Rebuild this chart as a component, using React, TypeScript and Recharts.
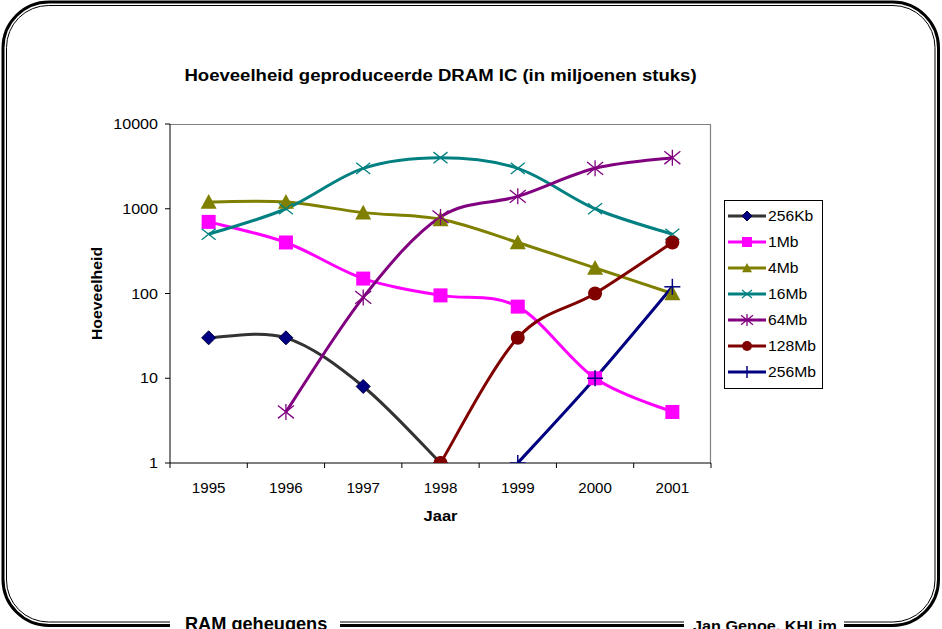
import React from "react";
import { ComposedChart, Line, XAxis, YAxis, ReferenceArea } from "recharts";

const years = ["1995", "1996", "1997", "1998", "1999", "2000", "2001"];
const kb256 = [30, 30, 8, 1, null, null, null];
const mb1 = [700, 400, 150, 95, 70, 10, 4];
const mb4 = [1200, 1200, 900, 750, 400, 200, 100];
const mb16 = [500, 1000, 3000, 4000, 3000, 1000, 500];
const mb64 = [null, 4, 90, 800, 1400, 3000, 4000];
const mb128 = [null, null, null, 1, 30, 100, 400];
const mb256 = [null, null, null, null, 1, 10, 120];
const yTicks = [1, 10, 100, 1000, 10000];

const FONT = "Arial, 'Liberation Sans', sans-serif";
const SX = 1.15; // the slide text is stretched a bit horizontally
const W = 942;
const H = 629;
const M = { top: 124, right: 231, bottom: 126, left: 110 };
const Y_AXIS_W = 60;
const X_AXIS_H = 40;
const PLOT_L = M.left + Y_AXIS_W;
const PLOT_R = W - M.right;
const AXIS_Y = H - M.bottom - X_AXIS_H;
const BAND = (PLOT_R - PLOT_L) / years.length;

const data = years.map((year, i) => ({
  year,
  kb256: kb256[i],
  mb1: mb1[i],
  mb4: mb4[i],
  mb16: mb16[i],
  mb64: mb64[i],
  mb128: mb128[i],
  mb256: mb256[i],
}));

// Excel-like smoothing (catmull-rom through the points)
const excelCurve = (context: any) => {
  let pts: number[][] = [];
  return {
    areaStart() {},
    areaEnd() {},
    lineStart() {
      pts = [];
    },
    point(x: number, y: number) {
      pts.push([+x, +y]);
    },
    lineEnd() {
      if (!pts.length) return;
      context.moveTo(pts[0][0], pts[0][1]);
      for (let i = 0; i < pts.length - 1; i++) {
        const p0 = pts[i - 1] || pts[i];
        const p1 = pts[i];
        const p2 = pts[i + 1];
        const p3 = pts[i + 2] || pts[i + 1];
        context.bezierCurveTo(
          p1[0] + (p2[0] - p0[0]) / 6,
          p1[1] + (p2[1] - p0[1]) / 6,
          p2[0] - (p3[0] - p1[0]) / 6,
          p2[1] - (p3[1] - p1[1]) / 6,
          p2[0],
          p2[1]
        );
      }
    },
  };
};

// stretched text helper
const SText = ({ x, y, size, bold, anchor = "start", sx = SX, rotate = 0, children }: any) => (
  <g transform={`translate(${x},${y}) rotate(${rotate}) scale(${sx},1)`}>
    <text x={0} y={0} textAnchor={anchor} fontSize={size} fontWeight={bold ? "bold" : "normal"} fontFamily={FONT} fill="#000">
      {children}
    </text>
  </g>
);

type Shape = "diamond" | "square" | "triangle" | "x" | "star" | "circle" | "plus";

const marker = (shape: Shape, color: string, cx: number, cy: number, s: number, key?: any) => {
  switch (shape) {
    case "diamond":
      return (
        <polygon key={key} points={`${cx},${cy - s} ${cx + s},${cy} ${cx},${cy + s} ${cx - s},${cy}`} fill={color} stroke="#000040" strokeWidth={1} />
      );
    case "square":
      return <rect key={key} x={cx - s} y={cy - s} width={s * 2} height={s * 2} fill={color} />;
    case "triangle":
      return <polygon key={key} points={`${cx},${cy - s} ${cx + s},${cy + s * 0.85} ${cx - s},${cy + s * 0.85}`} fill={color} />;
    case "x":
      return (
        <g key={key} stroke={color} strokeWidth={1.3}>
          <line x1={cx - s} y1={cy - s * 0.8} x2={cx + s} y2={cy + s * 0.8} />
          <line x1={cx - s} y1={cy + s * 0.8} x2={cx + s} y2={cy - s * 0.8} />
        </g>
      );
    case "star":
      return (
        <g key={key} stroke={color} strokeWidth={1.3}>
          <line x1={cx - s} y1={cy - s * 0.8} x2={cx + s} y2={cy + s * 0.8} />
          <line x1={cx - s} y1={cy + s * 0.8} x2={cx + s} y2={cy - s * 0.8} />
          <line x1={cx} y1={cy - s} x2={cx} y2={cy + s} />
        </g>
      );
    case "circle":
      return <circle key={key} cx={cx} cy={cy} r={s} fill={color} />;
    case "plus":
      return (
        <g key={key} stroke={color} strokeWidth={1.5}>
          <line x1={cx - s} y1={cy} x2={cx + s} y2={cy} />
          <line x1={cx} y1={cy - s} x2={cx} y2={cy + s} />
        </g>
      );
  }
};

const seriesList: { key: string; name: string; line: string; dot: string; shape: Shape; size: number }[] = [
  { key: "kb256", name: "256Kb", line: "#333333", dot: "#000080", shape: "diamond", size: 7 },
  { key: "mb1", name: "1Mb", line: "#FF00FF", dot: "#FF00FF", shape: "square", size: 7 },
  { key: "mb4", name: "4Mb", line: "#808000", dot: "#808000", shape: "triangle", size: 8 },
  { key: "mb16", name: "16Mb", line: "#008080", dot: "#008080", shape: "x", size: 7 },
  { key: "mb64", name: "64Mb", line: "#800080", dot: "#800080", shape: "star", size: 8 },
  { key: "mb128", name: "128Mb", line: "#800000", dot: "#800000", shape: "circle", size: 7 },
  { key: "mb256", name: "256Mb", line: "#000080", dot: "#000080", shape: "plus", size: 8 },
];

const makeDot = (shape: Shape, color: string, size: number) => (props: any) => {
  const { cx, cy, index, value } = props;
  if (value == null || cy == null || isNaN(cy)) return <g key={`d${index}`} />;
  return marker(shape, color, cx, cy, size, `d${index}`);
};

const XTick = (props: any) => {
  const { x, payload, index } = props;
  return (
    <g>
      <line x1={x - BAND / 2} y1={AXIS_Y} x2={x - BAND / 2} y2={AXIS_Y + 5} stroke="#000" />
      {index === years.length - 1 && (
        <line x1={x + BAND / 2} y1={AXIS_Y} x2={x + BAND / 2} y2={AXIS_Y + 5} stroke="#000" />
      )}
      <SText x={x} y={AXIS_Y + 30} size={14} anchor="middle" sx={1.08}>
        {payload.value}
      </SText>
    </g>
  );
};

const YTick = (props: any) => {
  const { x, y, payload } = props;
  return (
    <SText x={x} y={y + 5} size={14} anchor="end">
      {payload.value}
    </SText>
  );
};

// gray top/right edge of the plot area
const PlotEdge = (props: any) => {
  const { x, y, width, height } = props;
  return <path d={`M${x},${y + 0.5} H${x + width - 0.5} V${y + height}`} fill="none" stroke="#808080" strokeWidth={1.2} />;
};

const LegendBox = () => (
  <svg width={99} height={189} style={{ position: "absolute", left: 724, top: 200 }}>
    <rect x={0.5} y={0.5} width={98} height={188} fill="#fff" stroke="#000" />
    {seriesList.map((s, i) => {
      const y = 16 + i * 26;
      return (
        <g key={s.key}>
          <line x1={4} y1={y} x2={42} y2={y} stroke={s.line} strokeWidth={3} />
          {marker(s.shape, s.dot, 23, y, s.shape === "plus" || s.shape === "star" ? 6 : 5)}
          <SText x={44} y={y + 5} size={14} sx={1.12}>
            {s.name}
          </SText>
        </g>
      );
    })}
  </svg>
);

const Frame = () => (
  <svg width={W} height={H} style={{ position: "absolute", left: 0, top: 0 }}>
    <rect x={3} y={2} width={935.5} height={623.5} rx={46} ry={46} fill="none" stroke="#000" strokeWidth={3} />
    <rect x={6.5} y={5.5} width={928.5} height={616.5} rx={42} ry={42} fill="none" stroke="#000" strokeWidth={1} />
    <rect x={170} y={612} width={170} height={17} fill="#fff" />
    <rect x={684} y={612} width={160} height={17} fill="#fff" />
    <SText x={185} y={630} size={18} bold sx={1.01}>
      RAM geheugens
    </SText>
    <SText x={693} y={631} size={15} bold sx={1.08}>
      Jan Genoe, KHLim
    </SText>
  </svg>
);

export default function App() {
  const midY = (M.top + AXIS_Y) / 2;
  const midX = (PLOT_L + PLOT_R) / 2;
  return (
    <div style={{ position: "absolute", left: 0, top: 0, width: W, height: H, background: "#fff", fontFamily: FONT }}>
      <Frame />
      <div style={{ position: "absolute", left: 0, top: 0 }}>
        <ComposedChart width={W} height={H} data={data} margin={M}>
          <SText x={midX} y={81} size={16} bold anchor="middle" sx={1.16}>
            Hoeveelheid geproduceerde DRAM IC (in miljoenen stuks)
          </SText>
          <SText x={102} y={midY} size={14} bold anchor="middle" rotate={-90} sx={1.13}>
            Hoeveelheid
          </SText>
          <SText x={midX} y={521} size={14} bold anchor="middle" sx={1.18}>
            Jaar
          </SText>
          <ReferenceArea y1={1} y2={10000} fill="none" shape={<PlotEdge />} ifOverflow="visible" />
          <XAxis
            dataKey="year"
            scale="band"
            height={X_AXIS_H}
            stroke="#000"
            tickLine={false}
            tick={<XTick />}
            interval={0}
          />
          <YAxis
            scale="log"
            domain={[1, 10000]}
            ticks={yTicks}
            allowDataOverflow
            width={Y_AXIS_W}
            stroke="#000"
            tickSize={5}
            tickMargin={7}
            tick={<YTick />}
            interval={0}
          />
          {seriesList.map((s) => (
            <Line
              key={s.key}
              dataKey={s.key}
              name={s.name}
              type={excelCurve as any}
              stroke={s.line}
              strokeWidth={3}
              dot={makeDot(s.shape, s.dot, s.size)}
              activeDot={false}
              connectNulls={false}
              isAnimationActive={false}
            />
          ))}
        </ComposedChart>
      </div>
      <LegendBox />
    </div>
  );
}
